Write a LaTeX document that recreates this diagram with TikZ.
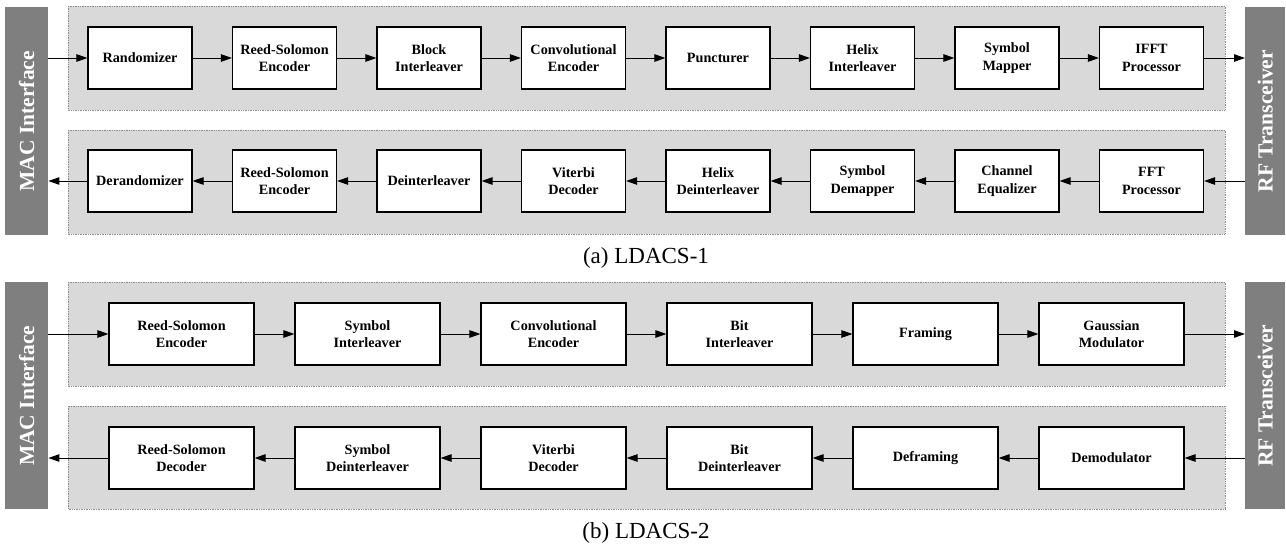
\documentclass[tikz,border=0pt]{standalone}
\usepackage{fontspec}
\setmainfont{Liberation Serif}
\usetikzlibrary{arrows.meta}
\definecolor{panelgray}{HTML}{D9D9D9}
\definecolor{bargray}{HTML}{7F7F7F}
\definecolor{bordergray}{HTML}{8C8C8C}
\begin{document}
\begin{tikzpicture}[x=1pt,y=-1pt,
  panel/.style={fill=panelgray, draw=bordergray, line width=0.9pt, dash pattern=on 1pt off 0.7pt},
  bar/.style={fill=bargray, draw=none, inner sep=0pt},
  bartext/.style={text=white, rotate=90, inner sep=0pt, font=\bfseries\fontsize{21.5}{21.5}\selectfont},
  blk/.style={draw, fill=white, line width=1.2pt, align=center, inner sep=0pt,
    font=\bfseries\fontsize{14.2}{17.5}\selectfont},
  blkA/.style={blk, minimum width=104pt, minimum height=62pt},
  blkB/.style={blk, minimum width=145pt, minimum height=62pt},
  link/.style={line width=0.9pt, -{Triangle[length=11pt,width=7.5pt]}},
  caption/.style={font=\fontsize{23}{23}\selectfont, inner sep=0pt}
]
\useasboundingbox (0,0) rectangle (1286,549);
% ---------- LDACS-1 ----------
\draw[panel] (68,6) rectangle (1225,110);
\draw[panel] (68,130) rectangle (1225,234);
\node[bar, anchor=north west, minimum width=43pt, minimum height=228pt] (mac1) at (5,7) {};
\node[bartext] (mact1) at (mac1.center) {MAC Interface};
\node[bar, anchor=north west, minimum width=40pt, minimum height=228pt] (rf1) at (1245,7) {};
\node[bartext] (rft1) at (rf1.center) {RF Transceiver};
\foreach \t [count=\i] in {Randomizer, {Reed-Solomon\\Encoder}, {Block\\Interleaver},
  {Convolutional\\Encoder}, Puncturer, {Helix\\Interleaver}, {Symbol\\Mapper}, {IFFT\\Processor}}
  \node[blkA] (a\i) at ({140+(\i-1)*144.5},58) {\t};
\foreach \t [count=\i] in {Derandomizer, {Reed-Solomon\\Encoder}, Deinterleaver,
  {Viterbi\\Decoder}, {Helix\\Deinterleaver}, {Symbol\\Demapper}, {Channel\\Equalizer}, {FFT\\Processor}}
  \node[blkA] (c\i) at ({140+(\i-1)*144.5},181) {\t};
\draw[link] (mac1.east |- a1) -- (a1);
\foreach \i [evaluate=\i as \j using int(\i+1)] in {1,...,7}
  \draw[link] (a\i) -- (a\j);
\draw[link] (a8) -- (rf1.west |- a8);
\draw[link] (rf1.west |- c8) -- (c8);
\foreach \i [evaluate=\i as \j using int(\i-1)] in {8,...,2}
  \draw[link] (c\i) -- (c\j);
\draw[link] (c1) -- (mac1.east |- c1);
\node[caption] (capa) at (646,258) {(a) LDACS-1};
% ---------- LDACS-2 ----------
\draw[panel] (68,282) rectangle (1225,386);
\draw[panel] (68,406) rectangle (1225,509);
\node[bar, anchor=north west, minimum width=43pt, minimum height=227pt] (mac2) at (5,282) {};
\node[bartext] (mact2) at (mac2.center) {MAC Interface};
\node[bar, anchor=north west, minimum width=40pt, minimum height=227pt] (rf2) at (1245,282) {};
\node[bartext] (rft2) at (rf2.center) {RF Transceiver};
\foreach \t [count=\i] in {{Reed-Solomon\\Encoder}, {Symbol\\Interleaver}, {Convolutional\\Encoder},
  {Bit\\Interleaver}, Framing, {Gaussian\\Modulator}}
  \node[blkB] (d\i) at ({181.5+(\i-1)*186},334) {\t};
\foreach \t [count=\i] in {{Reed-Solomon\\Decoder}, {Symbol\\Deinterleaver}, {Viterbi\\Decoder},
  {Bit\\Deinterleaver}, Deframing, Demodulator}
  \node[blkB] (e\i) at ({181.5+(\i-1)*186},458) {\t};
\draw[link] (mac2.east |- d1) -- (d1);
\foreach \i [evaluate=\i as \j using int(\i+1)] in {1,...,5}
  \draw[link] (d\i) -- (d\j);
\draw[link] (d6) -- (rf2.west |- d6);
\draw[link] (rf2.west |- e6) -- (e6);
\foreach \i [evaluate=\i as \j using int(\i-1)] in {6,...,2}
  \draw[link] (e\i) -- (e\j);
\draw[link] (e1) -- (mac2.east |- e1);
\node[caption] (capb) at (646,533) {(b) LDACS-2};
\end{tikzpicture}
\end{document}
